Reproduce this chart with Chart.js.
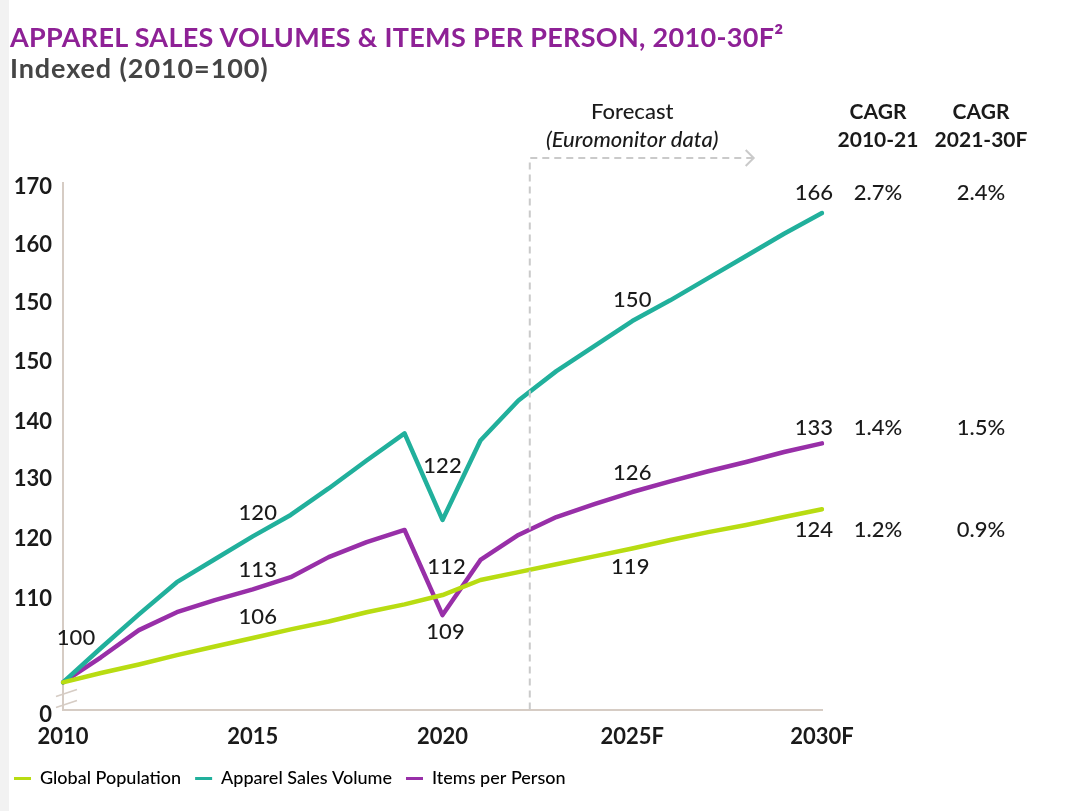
<!DOCTYPE html>
<html>
<head>
<meta charset="utf-8">
<title>Apparel sales volumes &amp; items per person</title>
<script src="https://cdn.jsdelivr.net/npm/chart.js@4.4.1/dist/chart.umd.min.js"></script>
<style>
  html, body { margin: 0; padding: 0; background: #fff; }
  #wrap { position: relative; width: 1066px; height: 811px; overflow: hidden; }
  #wrap h1 { position: absolute; left: 10px; top: 23px; margin: 0; font: 700 27px/27px Lato, sans-serif; color: #8e2196; letter-spacing: 0.3px; white-space: nowrap; }
  #wrap h2 { position: absolute; left: 10px; top: 54px; margin: 0; font: 700 27px/27px Lato, sans-serif; color: #454545; letter-spacing: 0.9px; white-space: nowrap; }
  #chart { position: absolute; left: 0; top: 0; }
</style>
</head>
<body>
<div id="wrap">
  <canvas id="chart" width="1066" height="811"></canvas>
  <h1>APPAREL SALES VOLUMES &amp; ITEMS PER PERSON, 2010-30F²</h1>
  <h2>Indexed (2010=100)</h2>
</div>
<script>
// datos (indice 2010 = 100)
const years = [2010, 2011, 2012, 2013, 2014, 2015, 2016, 2017, 2018, 2019, 2020,
               2021, 2022, 2023, 2024, 2025, 2026, 2027, 2028, 2029, 2030];
const globalPopulation = [100, 101.3, 102.5, 103.8, 105.0, 106.2, 107.4, 108.5, 109.8, 110.9, 112.2,
                          114.3, 115.4, 116.5, 117.6, 118.7, 119.9, 121.0, 122.0, 123.1, 124.2];
const apparelSalesVolume = [100, 104.8, 109.5, 114.0, 117.2, 120.4, 123.4, 127.1, 131.0, 134.8, 122.7,
                            133.8, 139.4, 143.5, 147.0, 150.5, 153.4, 156.5, 159.6, 162.7, 165.6];
const itemsPerPerson = [100, 103.5, 107.3, 109.8, 111.5, 113.0, 114.7, 117.5, 119.6, 121.3, 109.4,
                        117.1, 120.6, 123.1, 124.9, 126.6, 128.1, 129.5, 130.8, 132.2, 133.4];

const seriesNames = ['Global Population', 'Apparel Sales Volume', 'Items per Person'];
const seriesColors = ['#b8dc12', '#21b09c', '#982fa8'];

// eje x: solo algunos años llevan etiqueta
const labeledYears = [2010, 2015, 2020, 2025, 2030];
const labeledYearText = ['2010', '2015', '2020', '2025F', '2030F'];

// eje y del original (etiquetas tal cual aparecen, incluido el 150 repetido)
const yTickValues = [95.4, 111.7, 120.1, 128.4, 136.4, 144.8, 153.0, 161.1, 169.2];
const yTickLabels = ['0', '110', '120', '130', '140', '150', '150', '160', '170'];

// etiquetas de puntos: serie, año, texto
const pointLabels = [
  { series: 2, year: 2010, text: '100', dx: 13, dy: -44 },
  { series: 1, year: 2015, text: '120', dx: 5, dy: -23 },
  { series: 2, year: 2015, text: '113', dx: 5, dy: -19 },
  { series: 0, year: 2015, text: '106', dx: 5, dy: -21 },
  { series: 1, year: 2020, text: '122', dx: 0, dy: -54 },
  { series: 0, year: 2020, text: '112', dx: 4, dy: -28 },
  { series: 2, year: 2020, text: '109', dx: 3, dy: 17 },
  { series: 1, year: 2025, text: '150', dx: 0, dy: -21 },
  { series: 2, year: 2025, text: '126', dx: 0, dy: -19 },
  { series: 0, year: 2025, text: '119', dx: -2, dy: 18 },
];

// valores finales y CAGR (mismo orden que las series)
const endValues = ['124', '166', '133'];
const endOffsets = [21, -20, -15];
const cagr2010to21 = ['1.2%', '2.7%', '1.4%'];
const cagr2021to30 = ['0.9%', '2.4%', '1.5%'];

const forecastStart = 2022.3;
const forecastArrowEnd = 2028.2;

const FONT = 'Lato, sans-serif';

const extras = {
  id: 'extras',
  beforeDraw(chart) {
    const ctx = chart.ctx;
    ctx.save();
    ctx.fillStyle = '#f2f2f2';
    ctx.fillRect(0, 0, 9, chart.height);
    ctx.restore();
  },
  afterDatasetsDraw(chart) {
    const ctx = chart.ctx;
    const area = chart.chartArea;
    const x = chart.scales.x;
    ctx.save();

    // linea de pronostico
    const fx = x.getPixelForValue(forecastStart - years[0]);
    const ax = x.getPixelForValue(forecastArrowEnd - years[0]);
    const fy = area.top - 25;
    ctx.strokeStyle = '#cacaca';
    ctx.lineWidth = 2;
    ctx.setLineDash([7, 5]);
    ctx.beginPath();
    ctx.moveTo(fx, area.bottom);
    ctx.lineTo(fx, fy);
    ctx.lineTo(ax, fy);
    ctx.stroke();
    ctx.setLineDash([]);
    ctx.beginPath();
    ctx.moveTo(ax - 8, fy - 8);
    ctx.lineTo(ax, fy);
    ctx.lineTo(ax - 8, fy + 8);
    ctx.stroke();

    // marcas de corte del eje
    ctx.strokeStyle = '#d6ccc4';
    ctx.lineWidth = 1.5;
    [0, 11].forEach(off => {
      ctx.beginPath();
      ctx.moveTo(area.left - 7, area.bottom - 13 + off);
      ctx.lineTo(area.left + 14, area.bottom - 20 + off);
      ctx.stroke();
    });

    ctx.fillStyle = '#1a1a1a';
    ctx.textBaseline = 'middle';
    ctx.textAlign = 'center';

    const fcx = x.getPixelForValue(2025 - years[0]);
    ctx.font = '500 22px ' + FONT;
    ctx.fillText('Forecast', fcx, area.top - 71);
    ctx.font = 'italic 500 22px ' + FONT;
    ctx.fillText('(Euromonitor data)', fcx, area.top - 43);

    // etiquetas de datos
    ctx.font = '500 22px ' + FONT;
    pointLabels.forEach(l => {
      const pt = chart.getDatasetMeta(l.series).data[l.year - years[0]];
      ctx.fillText(l.text, pt.x + l.dx, pt.y + l.dy);
    });

    // cabeceras CAGR
    const c1 = area.right + 56;
    const c2 = area.right + 159;
    ctx.font = '700 21px ' + FONT;
    ctx.fillText('CAGR', c1, area.top - 71);
    ctx.fillText('2010-21', c1, area.top - 43);
    ctx.fillText('CAGR', c2, area.top - 71);
    ctx.fillText('2021-30F', c2, area.top - 43);

    // valores finales + CAGR
    ctx.font = '500 22px ' + FONT;
    endValues.forEach((v, i) => {
      const data = chart.getDatasetMeta(i).data;
      const pt = data[data.length - 1];
      const y = pt.y + endOffsets[i];
      ctx.textAlign = 'right';
      ctx.fillText(v, area.right + 11, y);
      ctx.textAlign = 'center';
      ctx.fillText(cagr2010to21[i], c1, y);
      ctx.fillText(cagr2021to30[i], c2, y);
    });
    ctx.restore();
  }
};

const seriesData = [globalPopulation, apparelSalesVolume, itemsPerPerson];

new Chart(document.getElementById('chart'), {
  type: 'line',
  data: {
    labels: years.map(String),
    datasets: seriesNames.map((name, i) => ({
      label: name,
      data: seriesData[i],
      borderColor: seriesColors[i],
      backgroundColor: seriesColors[i],
      borderWidth: 4.5,
      pointRadius: 0,
      tension: 0,
      borderJoinStyle: 'round',
      borderCapStyle: 'round',
    })),
  },
  options: {
    responsive: false,
    animation: false,
    devicePixelRatio: 1,
    layout: { padding: { top: 183, right: 244, bottom: 13.5, left: 0 } },
    plugins: {
      tooltip: { enabled: false },
      legend: {
        position: 'bottom',
        align: 'start',
        labels: {
          boxWidth: 17,
          boxHeight: 3,
          padding: 14,
          color: '#1a1a1a',
          font: { family: FONT, size: 18, weight: '500' },
          generateLabels(chart) {
            return chart.data.datasets.map((ds, i) => ({
              text: ds.label,
              fillStyle: ds.borderColor,
              strokeStyle: ds.borderColor,
              lineWidth: 0,
              datasetIndex: i,
              hidden: false,
            }));
          },
        },
      },
    },
    scales: {
      x: {
        grid: { display: false, drawTicks: false },
        border: { color: '#d6ccc4', width: 2 },
        afterFit(scale) { scale.height = 46; },
        ticks: {
          autoSkip: false,
          maxRotation: 0,
          padding: 14,
          color: '#1a1a1a',
          font: { family: FONT, size: 22, weight: '700' },
          callback(value, index) {
            const k = labeledYears.indexOf(years[index]);
            return k >= 0 ? labeledYearText[k] : '';
          },
        },
      },
      y: {
        min: 96.2,
        max: 169.8,
        grid: { display: false, drawTicks: false },
        border: { color: '#d6ccc4', width: 2 },
        afterFit(scale) { scale.width = 63; },
        afterBuildTicks(scale) {
          scale.ticks = yTickValues.map(v => ({ value: v }));
        },
        ticks: {
          padding: 11,
          color: '#1a1a1a',
          font: { family: FONT, size: 22, weight: '700' },
          callback(value, index) { return yTickLabels[index]; },
        },
      },
    },
  },
  plugins: [extras],
});
</script>
</body>
</html>
